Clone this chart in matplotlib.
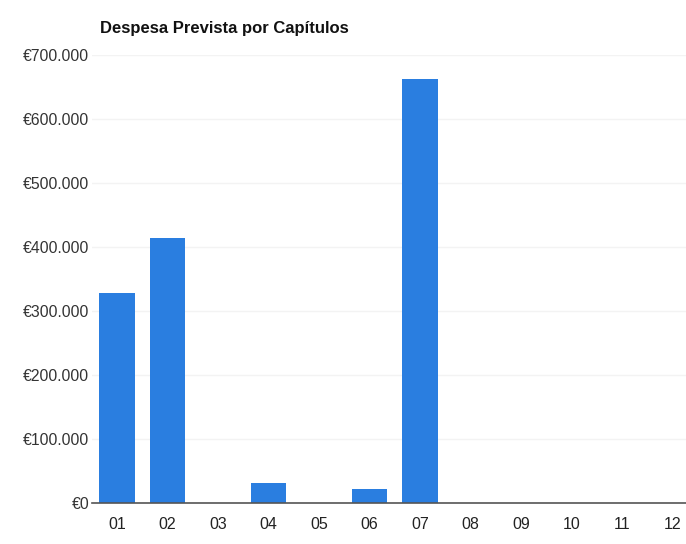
import matplotlib
matplotlib.use("Agg")
import matplotlib.pyplot as plt
from matplotlib.ticker import FuncFormatter

plt.rcParams['font.family'] = ['Liberation Sans', 'DejaVu Sans']

chapters = ["01", "02", "03", "04", "05", "06", "07", "08", "09", "10", "11", "12"]
values = [328000, 414000, 0, 31000, 0, 22000, 662000, 0, 0, 0, 0, 0]
y_ticks = [0, 100000, 200000, 300000, 400000, 500000, 600000, 700000]

fig = plt.figure(figsize=(6.86, 5.44), dpi=100)
ax = fig.add_axes([0.134, 0.0754, 0.883, 0.8236])

x = list(range(len(chapters)))
ax.bar(x, values, width=0.7, color="#2a7ee0", zorder=3)

ax.set_xlim(-0.5, len(chapters) - 0.5)
ax.set_ylim(0, 700000)
ax.set_yticks(y_ticks)
ax.yaxis.set_major_formatter(FuncFormatter(
    lambda v, p: "€" + f"{int(v):,}".replace(",", ".")))
ax.set_xticks(x)
ax.set_xticklabels(chapters)

for s in ["top", "right", "left"]:
    ax.spines[s].set_visible(False)
ax.spines["bottom"].set_color("#555555")
ax.spines["bottom"].set_linewidth(1.2)
ax.spines["bottom"].set_zorder(4)

ax.grid(axis="y", color="#f3f3f3", linewidth=1, zorder=0)
ax.tick_params(axis="y", length=0, labelsize=11.3, labelcolor="#333333", pad=2)
ax.tick_params(axis="x", length=0, labelsize=11.5, labelcolor="#222222", pad=10)

fig.text(0.146, 0.948, "Despesa Prevista por Capítulos", fontsize=12,
         fontweight="bold", color="#111111", ha="left", va="center")

fig.savefig("out.png", dpi=100)
